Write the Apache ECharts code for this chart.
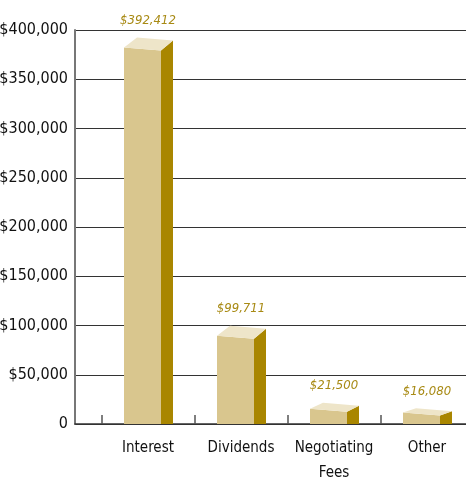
<!DOCTYPE html>
<html><head><meta charset="utf-8">
<script src="https://cdn.jsdelivr.net/npm/echarts@6/dist/echarts.min.js"></script>
<style>html,body{margin:0;padding:0;background:#fff}#c{width:466px;height:479px}</style>
</head><body><div id="c"></div>
<script>
const categories = ['Interest', 'Dividends', 'Negotiating\nFees', 'Other'];
const values = [392412, 99711, 21500, 16080];
const valueLabels = ['$392,412', '$99,711', '$21,500', '$16,080'];
const yMax = 400000;
const yStep = 50000;

const FONT = '"DejaVu Sans Condensed"';
const chart = echarts.init(document.getElementById('c'));

function renderItem(params, api) {
  const idx = api.value(0), v = api.value(1);
  const top = api.coord([idx, v]);
  const base = api.coord([idx, 0]);
  const cx = top[0];
  const x0 = cx - 24, x1 = x0 + 37, dx = 12;
  const vy = top[1], by = base[1];
  const h = by - vy;
  const dy = Math.min(10, h * 0.28);
  const s = 3;
  return {
    type: 'group',
    children: [
      { type: 'polygon', shape: { points: [[x0, vy + dy], [x1, vy + dy + s], [x1, by], [x0, by]] },
        style: { fill: '#d9c68e' } },
      { type: 'polygon', shape: { points: [[x1, vy + dy + s], [x1 + dx, vy + s], [x1 + dx, by], [x1, by]] },
        style: { fill: '#a98600' } },
      { type: 'polygon', shape: { points: [[x0 + dx + 1, vy], [x1 + dx, vy + s], [x1, vy + dy + s], [x0, vy + dy]] },
        style: { fill: '#eee5c9' } },
      { type: 'text', style: { text: valueLabels[idx], x: cx, y: vy - 17, align: 'center', verticalAlign: 'middle',
        fill: '#a88a14', font: 'italic 13px ' + FONT } }
    ]
  };
}

chart.setOption({
  animation: false,
  grid: [
    { left: 75, right: 0, top: 30, bottom: 55, outerBoundsMode: 'none', containLabel: false },
    { left: 101.5, right: -7.5, top: 30, bottom: 55, outerBoundsMode: 'none', containLabel: false }
  ],
  xAxis: [
    { gridIndex: 0, type: 'value', min: 0, max: 1, axisLabel: { show: false }, axisTick: { show: false },
      splitLine: { show: false }, axisLine: { show: true, lineStyle: { color: '#333', width: 1.5 } } },
    { gridIndex: 1, type: 'category', data: categories, axisLine: { show: false },
      axisTick: { show: true, inside: true, length: 9, lineStyle: { color: '#555', width: 1.5 } },
      axisLabel: { interval: 0, color: '#111', fontFamily: FONT, fontSize: 15, lineHeight: 25, margin: 12 } }
  ],
  yAxis: [
    { gridIndex: 0, type: 'value', min: 0, max: yMax, interval: yStep,
      axisLine: { show: true, lineStyle: { color: '#777', width: 2 } }, axisTick: { show: false },
      splitLine: { show: true, lineStyle: { color: '#333', width: 1.2 } },
      axisLabel: { color: '#111', fontFamily: FONT, fontSize: 16, margin: 7,
        formatter: v => v === 0 ? '0' : '$' + v.toLocaleString('en-US') } },
    { gridIndex: 1, type: 'value', min: 0, max: yMax, interval: yStep, show: false }
  ],
  series: [{
    type: 'custom', xAxisIndex: 1, yAxisIndex: 1, renderItem: renderItem,
    data: values.map((v, i) => [i, v])
  }]
});
</script></body></html>
